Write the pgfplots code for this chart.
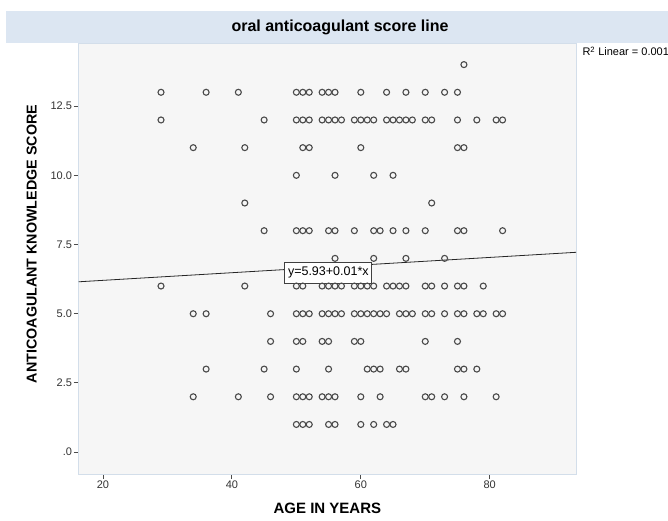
\documentclass[border=0pt]{standalone}
\usepackage{pgfplots}
\pgfplotsset{compat=1.18}
\usepackage{pgfplotstable}
\usepackage{fontspec}
\setmainfont{Liberation Sans}
\definecolor{band}{HTML}{DCE6F2}
\definecolor{plotbg}{HTML}{F6F6F6}
\definecolor{framec}{HTML}{D3DEEA}
\definecolor{markc}{HTML}{4A4A4A}

\pgfplotstableread{
age score
76 14
29 13
36 13
41 13
50 13
51 13
52 13
54 13
55 13
56 13
60 13
64 13
67 13
70 13
73 13
75 13
29 12
45 12
50 12
51 12
52 12
54 12
55 12
56 12
57 12
59 12
60 12
61 12
62 12
64 12
65 12
66 12
67 12
68 12
70 12
71 12
75 12
78 12
81 12
82 12
34 11
42 11
51 11
52 11
60 11
75 11
76 11
50 10
56 10
62 10
65 10
42 9
71 9
45 8
50 8
51 8
52 8
55 8
56 8
59 8
62 8
63 8
65 8
67 8
70 8
75 8
76 8
82 8
56 7
62 7
67 7
73 7
29 6
42 6
50 6
51 6
54 6
55 6
56 6
57 6
59 6
60 6
61 6
62 6
64 6
65 6
66 6
67 6
70 6
71 6
73 6
75 6
76 6
79 6
34 5
36 5
46 5
50 5
51 5
52 5
54 5
55 5
56 5
57 5
59 5
60 5
61 5
62 5
63 5
64 5
66 5
67 5
68 5
70 5
71 5
73 5
75 5
76 5
78 5
79 5
81 5
82 5
46 4
50 4
51 4
54 4
55 4
59 4
60 4
70 4
75 4
36 3
45 3
50 3
55 3
61 3
62 3
63 3
66 3
67 3
75 3
76 3
78 3
34 2
41 2
46 2
50 2
51 2
52 2
54 2
55 2
56 2
60 2
63 2
70 2
71 2
73 2
76 2
81 2
50 1
51 1
52 1
55 1
56 1
60 1
62 1
64 1
65 1
}\scoredata

\begin{document}
\begin{tikzpicture}
\path[use as bounding box, fill=white] (-78.7pt,-47pt) rectangle (589.3pt,474pt);
\fill[band] (-72.7pt,430.7pt) rectangle (589.3pt,463pt);
\node[font=\fontsize{16}{19}\selectfont\bfseries] at (261.3pt,446.5pt) {oral anticoagulant score line};
\begin{axis}[
  scale only axis, width=497.3pt, height=430.7pt,
  xmin=16.23, xmax=93.39, ymin=-0.79, ymax=14.77,
  axis background/.style={fill=plotbg},
  axis line style={draw=framec, line width=0.8pt},
  xtick={20,40,60,80}, ytick={0,2.5,5,7.5,10,12.5},
  yticklabels={.0,2.5,5.0,7.5,10.0,12.5},
  xtick pos=lower, ytick pos=left,
  tick align=outside, major tick length=5pt,
  every tick/.style={draw=black!70, line width=0.9pt},
  tick label style={font=\fontsize{11}{13}\selectfont, text=black!80},
  /pgf/number format/assume math mode=true,
  yticklabel style={inner sep=1.5pt},
  xticklabel style={inner sep=2pt},
  xlabel={AGE IN YEARS},
  ylabel={ANTICOAGULANT KNOWLEDGE SCORE},
  xlabel style={at={(axis description cs:0.5,-0.079)}, anchor=center, font=\fontsize{15}{17}\selectfont\bfseries},
  ylabel style={at={(axis description cs:-0.0945,0.534)}, anchor=center, font=\fontsize{14.3}{16}\selectfont\bfseries},
  clip=false,
]
\addplot[draw=black!85, line width=0.8pt] coordinates {(16.23,6.154) (93.39,7.219)};
\addplot[only marks, mark=o, mark size=3pt, mark options={draw=markc, line width=1.1pt}] table[x=age, y=score] {\scoredata};
\node[draw=black!75, fill=white, line width=0.8pt, font=\fontsize{12.5}{14}\selectfont, minimum width=87pt, minimum height=21pt, inner sep=0pt] at (axis cs:54.96,6.487) {y=5.93+0.01*x};
\end{axis}
\node[anchor=base west, font=\fontsize{11}{13}\selectfont] at (500.3pt,418pt) {R\textsuperscript{2} Linear = 0.001};
\end{tikzpicture}
\end{document}
